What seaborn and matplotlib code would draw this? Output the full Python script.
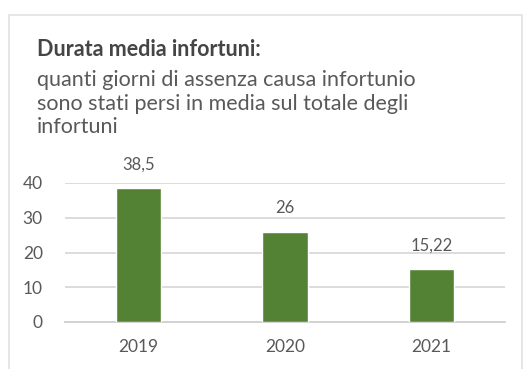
import matplotlib
matplotlib.use("Agg")
import matplotlib.pyplot as plt
from matplotlib.patches import Rectangle
import seaborn as sns
import pandas as pd

years = ["2019", "2020", "2021"]
days = [38.5, 26, 15.22]
value_labels = ["38,5", "26", "15,22"]
y_ticks = [0, 10, 20, 30, 40]

title_bold = "Durata media infortuni:"
title_lines = [
    "quanti giorni di assenza causa infortunio",
    "sono stati persi in media sul totale degli",
    "infortuni",
]

sns.set_theme(style="white")
plt.rcParams["font.family"] = ["Lato", "DejaVu Sans"]

W, H = 527, 369
fig = plt.figure(figsize=(W / 100, H / 100), dpi=100)
fig.patch.set_facecolor("white")

# card frame
fig.patches.append(Rectangle((9 / W, -0.05), 513 / W, 1 - 15 / H + 0.05,
                             transform=fig.transFigure, fill=False,
                             edgecolor="#e2e2e2", linewidth=1.2))

ax = fig.add_axes([65 / W, 1 - 322 / H, 440 / W, 139 / H])
df = pd.DataFrame({"anno": years, "giorni": days})
sns.barplot(data=df, x="anno", y="giorni", color="#548235", width=0.31,
            saturation=1, ax=ax, zorder=3)

ax.set_ylim(0, 40)
ax.set_xlim(-0.5, 2.5)
ax.set_yticks(y_ticks)
ax.set_yticklabels([str(t) for t in y_ticks])
ax.set_xlabel("")
ax.set_ylabel("")
ax.yaxis.grid(True, color="#d9d9d9", linewidth=1.3, zorder=0)
for side in ["left", "right", "top"]:
    ax.spines[side].set_visible(False)
ax.spines["bottom"].set_color("#d0d0d0")
ax.spines["bottom"].set_linewidth(1.3)
ax.tick_params(axis="y", length=0, pad=16, labelsize=12.5, labelcolor="#595959")
ax.tick_params(axis="x", length=0, pad=12, labelsize=12.5, labelcolor="#595959")
# small separators between categories on the baseline
ax.set_xticks([-0.5, 0.5, 1.5, 2.5], minor=True)
ax.tick_params(axis="x", which="minor", length=4, color="#d0d0d0", width=1.2,
               direction="out")

for bar, lab in zip(ax.patches, value_labels):
    ax.annotate(lab, (bar.get_x() + bar.get_width() / 2, bar.get_height()),
                xytext=(0, 11), textcoords="offset points", ha="center",
                va="bottom", fontsize=12, color="#595959",
                annotation_clip=False)

fig.text(37 / W, 1 - 50 / H, title_bold, fontsize=15.5, fontweight="bold",
         color="#454545", va="center")
for i, line in enumerate(title_lines):
    fig.text(37 / W, 1 - (80 + 23.5 * i) / H, line, fontsize=15.5,
             color="#595959", va="center")

fig.savefig("out.png", dpi=100, facecolor="white")
